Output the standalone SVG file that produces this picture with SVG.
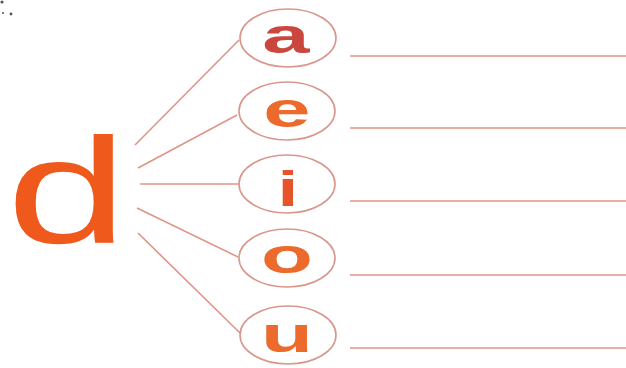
<svg xmlns="http://www.w3.org/2000/svg" width="626" height="368" viewBox="0 0 626 368">
<style>
.ln{stroke:#e09486;stroke-width:1.6;fill:none}
.el{stroke:#d9968c;stroke-width:1.6;fill:#ffffff}
.v{font-family:"Liberation Sans",Arial,sans-serif;font-weight:bold;font-size:50px;text-anchor:middle;fill:#ec6a2c}
.big{font-family:"Liberation Sans",Arial,sans-serif;font-size:150px;fill:#f0591c}
</style>
<rect width="626" height="368" fill="#ffffff"/>
<g id="specks" fill="#555">
<circle cx="2" cy="2" r="1.6"/><circle cx="11" cy="14" r="1.4"/><circle cx="3" cy="13" r="1"/>
</g>
<g id="connectors">
<line class="ln" x1="135" y1="145" x2="239" y2="40"/>
<line class="ln" x1="138" y1="168" x2="237" y2="115"/>
<line class="ln" x1="140" y1="184" x2="239" y2="184"/>
<line class="ln" x1="137" y1="208" x2="238" y2="257"/>
<line class="ln" x1="138" y1="233" x2="240" y2="333"/>
<line class="ln" x1="350" y1="56" x2="626" y2="56"/>
<line class="ln" x1="350" y1="128" x2="626" y2="128"/>
<line class="ln" x1="350" y1="201" x2="626" y2="201"/>
<line class="ln" x1="350" y1="275" x2="626" y2="275"/>
<line class="ln" x1="350" y1="348" x2="626" y2="348"/>
</g>
<g id="d">
<text class="big" transform="translate(67,243) scale(1.45,1)" text-anchor="middle">d</text>
</g>
<g id="a">
<ellipse class="el" cx="288" cy="38" rx="48" ry="29"/>
<text class="v" style="fill:#c9473d" transform="translate(286,53) scale(1.7,1)">a</text>
</g>
<g id="e">
<ellipse class="el" cx="287" cy="111" rx="48" ry="29"/>
<text class="v" transform="translate(287,127) scale(1.7,1)">e</text>
</g>
<g id="i">
<ellipse class="el" cx="287" cy="184" rx="48" ry="29"/>
<text class="v" style="fill:#e8542a" transform="translate(288,206) scale(1.5,1)">i</text>
</g>
<g id="o">
<ellipse class="el" cx="287" cy="258" rx="48" ry="29"/>
<text class="v" transform="translate(287,273) scale(1.7,1)">o</text>
</g>
<g id="u">
<ellipse class="el" cx="288" cy="335" rx="48" ry="29"/>
<text class="v" transform="translate(287,352) scale(1.7,1)">u</text>
</g>
</svg>
